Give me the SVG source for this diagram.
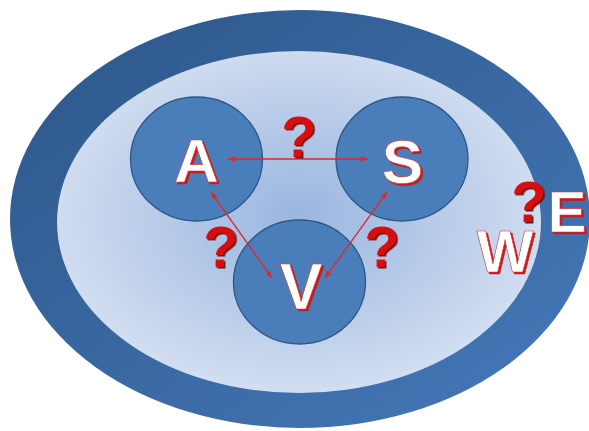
<svg xmlns="http://www.w3.org/2000/svg" width="589" height="431" viewBox="0 0 589 431">
<defs>
<linearGradient id="outerG" x1="0" y1="0" x2="1" y2="1">
<stop offset="0" stop-color="#2c5688"/>
<stop offset="1" stop-color="#4679ba"/>
</linearGradient>
<radialGradient id="innerG" cx="0.5" cy="0.48" r="0.55">
<stop offset="0" stop-color="#9ab6e1"/>
<stop offset="0.6" stop-color="#bccee9"/>
<stop offset="1" stop-color="#d6e1f2"/>
</radialGradient>
<filter id="redSh" x="-20%" y="-20%" width="140%" height="140%">
<feDropShadow dx="2" dy="2" stdDeviation="0.3" flood-color="#c81e1e" flood-opacity="1"/>
</filter>
<filter id="darkSh" x="-20%" y="-20%" width="140%" height="140%">
<feDropShadow dx="1.5" dy="1.5" stdDeviation="0.3" flood-color="#6a0808" flood-opacity="1"/>
</filter>
<marker id="ah" viewBox="0 0 10 10" refX="10" refY="5" markerWidth="7" markerHeight="7" orient="auto-start-reverse" markerUnits="userSpaceOnUse">
<path d="M0,1 L10,5 L0,9 z" fill="#e02828"/>
</marker>
</defs>
<style>
.node{fill:#4a7ebb;stroke:#2d5687;stroke-width:1.3}
.lt{font-family:"Liberation Sans",Arial,sans-serif;font-weight:bold;text-anchor:middle}
.fg{fill:#ffffff;stroke:#d03030;stroke-width:0.6;filter:url(#redSh)}
.q{fill:#d81010;filter:url(#darkSh)}
.conn{stroke:#e02828;stroke-width:1.3;fill:none;marker-start:url(#ah);marker-end:url(#ah)}
</style>
<g id="outer">
<ellipse cx="300" cy="219" rx="290" ry="209" fill="url(#outerG)"/>
</g>
<g id="inner">
<ellipse cx="299" cy="222" rx="242" ry="171" fill="url(#innerG)"/>
</g>
<g id="node-A">
<ellipse class="node" cx="196.5" cy="159" rx="66" ry="62"/>
<text class="lt fg" x="196.5" y="182" font-size="62">A</text>
</g>
<g id="node-S">
<ellipse class="node" cx="402" cy="159" rx="66" ry="62"/>
<text class="lt fg" x="402.5" y="183" font-size="62">S</text>
</g>
<g id="node-V">
<ellipse class="node" cx="299.5" cy="282" rx="66" ry="62"/>
<text class="lt fg" x="301" y="309" font-size="64">V</text>
</g>
<g id="connectors">
<line class="conn" x1="228" y1="159" x2="368" y2="159"/>
<line class="conn" x1="211" y1="192" x2="272" y2="278"/>
<line class="conn" x1="387" y1="192" x2="325" y2="278"/>
</g>
<g id="labels">
<text class="lt q" x="299" y="157" font-size="58">?</text>
<text class="lt q" x="221" y="267" font-size="58">?</text>
<text class="lt q" x="382" y="267" font-size="58">?</text>
</g>
<g id="node-W">
<text class="lt fg" x="505" y="272" font-size="60">W</text>
</g>
<g id="node-E">
<text class="lt fg" x="567" y="232" font-size="58">E</text>
</g>
<g id="label-WE">
<text class="lt q" x="529" y="222" font-size="58">?</text>
</g>
</svg>
